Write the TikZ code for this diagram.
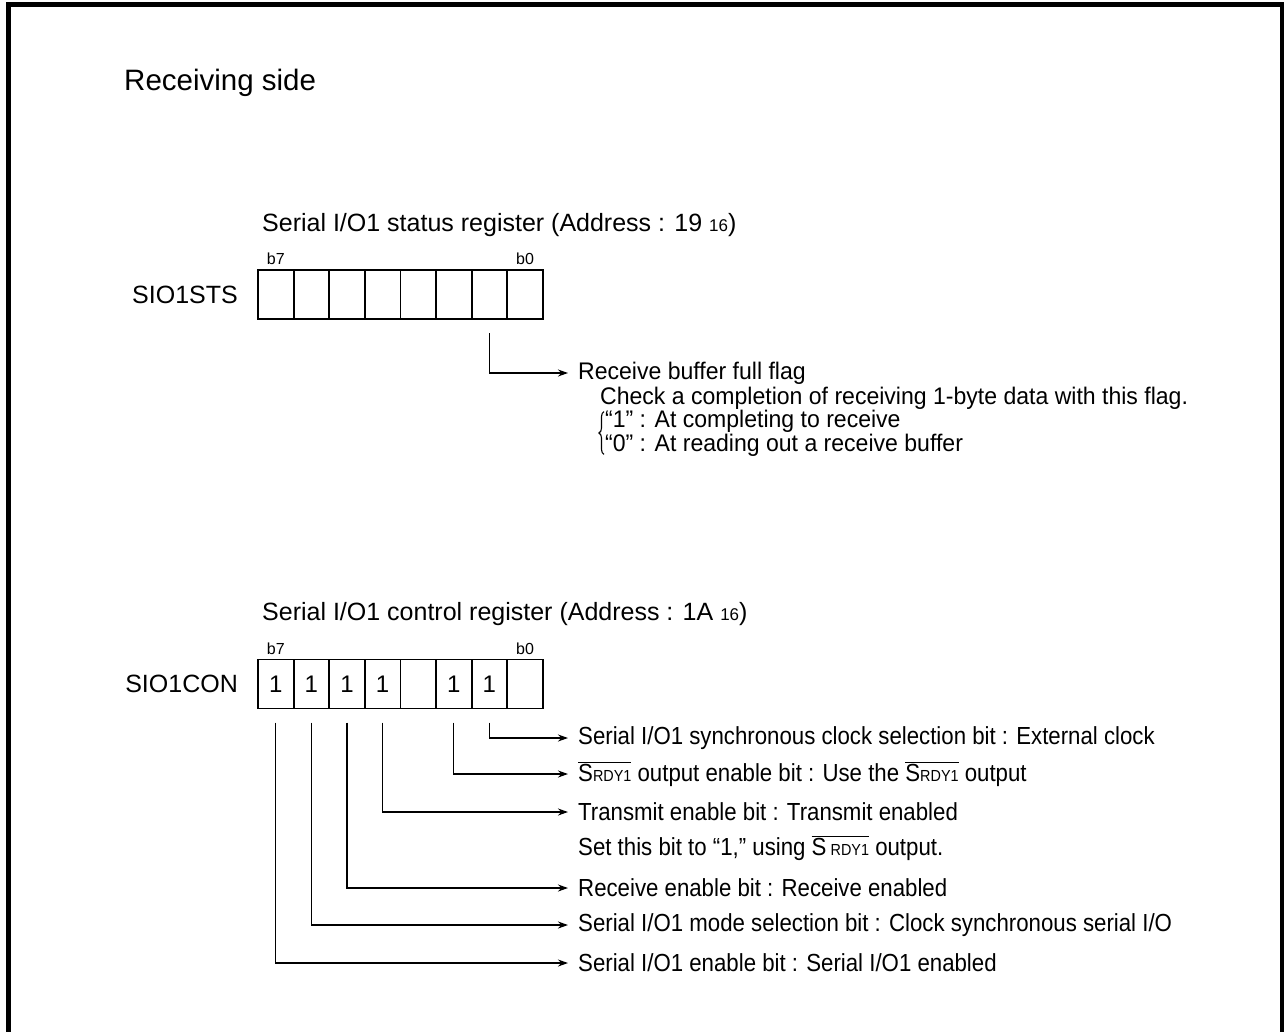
\documentclass[tikz,border=0pt]{standalone}
\usepackage{fontspec}
\setmainfont{Liberation Sans}
\newfontfamily\narrowfont{Liberation Sans}[FakeStretch=0.9]
\newfontfamily\notefont{Liberation Sans}[FakeStretch=0.96]
\usetikzlibrary{arrows.meta, positioning, decorations.pathreplacing}
\newcommand{\srdybar}{$\overline{\mbox{S{\fontsize{16}{18}\selectfont RDY1}}}$}

\begin{document}
\begin{tikzpicture}[x=1pt, y=-1pt,
    cell/.style={draw, line width=1.8pt, minimum width=35.6pt, minimum height=49pt,
                 inner sep=0pt, outer sep=0pt, font=\fontsize{24}{28}\selectfont},
    head/.style={font=\fontsize{25}{30}\selectfont, inner sep=0pt, anchor=base west},
    regname/.style={font=\fontsize{25}{30}\selectfont, inner sep=0pt},
    bitno/.style={font=\fontsize{16}{19}\selectfont, inner sep=0pt},
    desc/.style={font=\narrowfont\fontsize{24.7}{29}\selectfont, anchor=west,
                 inner xsep=10pt, inner ysep=0pt},
    note/.style={desc, font=\notefont\fontsize{24}{28}\selectfont},
    arr/.style={-{Stealth[length=10pt, width=7pt]}, line width=1.3pt},
  ]
  \useasboundingbox (0,0) rectangle (1284,1031);
  \draw[line width=5pt] (8.5,1040) -- (8.5,4.5) -- (1282,4.5) -- (1282,1040);

  \node[font=\fontsize{29.5}{35}\selectfont, anchor=base west, inner sep=0pt] (side) at (124,90) {Receiving side};

  \foreach \i in {0,...,7}
    \node[cell] (s\i) at ({275.8+35.6*\i},294.5) {};
  \node[head] (stitle) at (262,231) {Serial I/O1 status register (Address : 19 {\fontsize{17}{20}\selectfont 16})};
  \node[bitno, above=5pt of s0] (sb7) {b7};
  \node[bitno, above=5pt of s7] (sb0) {b0};
  \node[regname, left=20pt of s0] (sts) {SIO1STS};

  \node[note] (rbf) at (568,373) {Receive buffer full flag};
  \node[note] (chk) at (590,398) {Check a completion of receiving 1-byte data with this flag.};
  \node[note] (o1) at (595,421) {“1” : At completing to receive};
  \node[note] (o0) at (595,445) {“0” : At reading out a receive buffer};
  \draw[arr] ([yshift=-14pt]s6.south) |- (rbf.west);
  \draw[decorate, decoration={brace, amplitude=5pt}, line width=1.1pt]
    ([xshift=9pt,yshift=2pt]o0.south west) -- ([xshift=9pt,yshift=-2pt]o1.north west);

  \foreach \i/\v in {0/1,1/1,2/1,3/1,4/,5/1,6/1,7/}
    \node[cell] (c\i) at ({275.8+35.6*\i},684) {\v};
  \node[head] (ctitle) at (262,620) {Serial I/O1 control register (Address : 1A {\fontsize{17}{20}\selectfont 16})};
  \node[bitno, above=5pt of c0] (cb7) {b7};
  \node[bitno, above=5pt of c7] (cb0) {b0};
  \node[regname, left=20pt of c0] (con) {SIO1CON};

  \node[desc] (t1) at (568,738) {Serial I/O1 synchronous clock selection bit : External clock};
  \node[desc] (t2) at (568,774) {\srdybar{} output enable bit : Use the \srdybar{} output};
  \node[desc] (t3) at (568,812) {Transmit enable bit : Transmit enabled};
  \node[desc] (t4) at (568,848) {Set this bit to “1,” using $\overline{\mbox{S\,{\fontsize{16}{18}\selectfont RDY1}}}$ output.};
  \node[desc] (t5) at (568,888) {Receive enable bit : Receive enabled};
  \node[desc] (t6) at (568,925) {Serial I/O1 mode selection bit : Clock synchronous serial I/O};
  \node[desc] (t7) at (568,963) {Serial I/O1 enable bit : Serial I/O1 enabled};

  \foreach \b/\t in {6/t1,5/t2,3/t3,2/t5,1/t6,0/t7}
    \draw[arr] ([yshift=-14pt]c\b.south) |- (\t.west);
\end{tikzpicture}
\end{document}
